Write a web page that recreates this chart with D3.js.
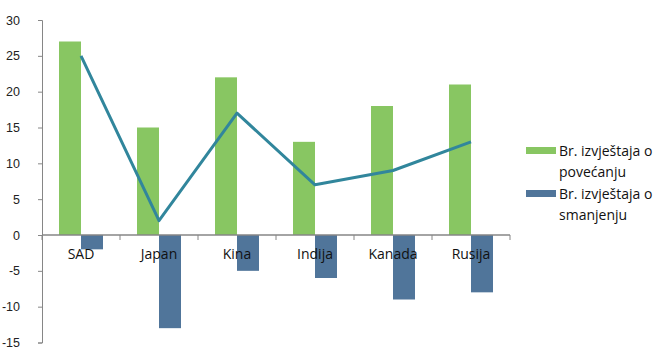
<!DOCTYPE html>
<html>
<head>
<meta charset="utf-8">
<script src="https://cdn.jsdelivr.net/npm/d3@7"></script>
<style>
  html, body { margin: 0; padding: 0; background: #fff; }
  svg { display: block; font-family: "Open Sans", "DejaVu Sans", sans-serif; }
</style>
</head>
<body>
<svg id="chart" width="659" height="349"></svg>
<script>
// Countries and report counts
const categories = ["SAD", "Japan", "Kina", "Indija", "Kanada", "Rusija"];
const increases = [27, 15, 22, 13, 18, 21];
const decreases = [-2, -13, -5, -6, -9, -8];
const netValues = [25, 2, 17, 7, 9, 13];
const yTicks = [-15, -10, -5, 0, 5, 10, 15, 20, 25, 30];
const seriesNames = ["Br. izvještaja o povećanju", "Br. izvještaja o smanjenju"];

const colors = { up: "#88C662", down: "#50759A", line: "#31869C", axis: "#868686" };

const svg = d3.select("#chart");
const plot = { left: 42, right: 510, top: 20, bottom: 342.5 };

const x = d3.scaleBand().domain(categories).range([plot.left, plot.right]);
const y = d3.scaleLinear().domain([-15, 30]).range([plot.bottom, plot.top]);
const barW = 22;

// Y axis (plain hyphen for negatives)
const yAxis = d3.axisLeft(y).tickValues(yTicks).tickSize(4).tickPadding(18)
  .tickFormat(d => String(d));
const gy = svg.append("g").attr("transform", `translate(${plot.left},0)`).call(yAxis);
gy.selectAll("path, line").attr("stroke", colors.axis);
gy.selectAll("text").attr("font-size", 12.5).attr("fill", "#222");

// Increase bars
svg.append("g").selectAll("rect").data(increases).join("rect")
  .attr("x", (d, i) => x(categories[i]) + x.bandwidth() / 2 - barW)
  .attr("y", d => y(d))
  .attr("width", barW)
  .attr("height", d => y(0) - y(d))
  .attr("fill", colors.up);

// Decrease bars
svg.append("g").selectAll("rect").data(decreases).join("rect")
  .attr("x", (d, i) => x(categories[i]) + x.bandwidth() / 2)
  .attr("y", y(0))
  .attr("width", barW)
  .attr("height", d => y(d) - y(0))
  .attr("fill", colors.down);

// Zero baseline with category tick marks
const gx = svg.append("g").attr("transform", `translate(0,${y(0)})`);
gx.append("line").attr("x1", plot.left).attr("x2", plot.right)
  .attr("stroke", colors.axis).attr("stroke-width", 1.5);
const boundaries = categories.map(c => x(c)).concat([plot.right]);
gx.selectAll("line.tick").data(boundaries).join("line")
  .attr("class", "tick")
  .attr("x1", d => d).attr("x2", d => d)
  .attr("y1", 0).attr("y2", 5)
  .attr("stroke", colors.axis);
gx.selectAll("text").data(categories).join("text")
  .attr("x", d => x(d) + x.bandwidth() / 2)
  .attr("y", 24)
  .attr("text-anchor", "middle")
  .attr("font-size", 14)
  .attr("fill", "#111")
  .text(d => d);

// Net line
const line = d3.line()
  .x((d, i) => x(categories[i]) + x.bandwidth() / 2)
  .y(d => y(d));
svg.append("path").datum(netValues)
  .attr("d", line)
  .attr("fill", "none")
  .attr("stroke", colors.line)
  .attr("stroke-width", 3)
  .attr("stroke-linejoin", "round");

// Legend
const legendRows = [
  { lines: ["Br. izvještaja o", "povećanju"], color: colors.up, top: 147 },
  { lines: ["Br. izvještaja o", "smanjenju"], color: colors.down, top: 190 }
];
const lg = svg.append("g");
legendRows.forEach((r, i) => {
  const g = lg.append("g").attr("aria-label", seriesNames[i]);
  g.append("rect").attr("x", 526).attr("y", r.top).attr("width", 30).attr("height", 7).attr("fill", r.color);
  const t = g.append("text").attr("x", 559).attr("y", r.top + 9).attr("font-size", 14).attr("fill", "#111");
  r.lines.forEach((s, j) => t.append("tspan").attr("x", 559).attr("dy", j === 0 ? 0 : 21).text(s));
});
</script>
</body>
</html>
